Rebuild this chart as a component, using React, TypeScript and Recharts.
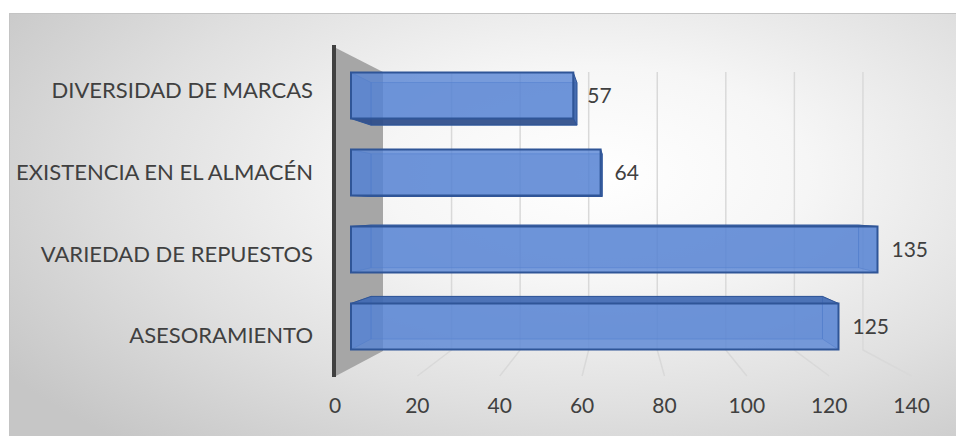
import React from "react";
import { BarChart, Bar, XAxis, YAxis, CartesianGrid, LabelList } from "recharts";

const categories = [
  "DIVERSIDAD DE MARCAS",
  "EXISTENCIA EN EL ALMACÉN",
  "VARIEDAD DE REPUESTOS",
  "ASESORAMIENTO",
];
const values = [57, 64, 135, 125];
const xTicks = [0, 20, 40, 60, 80, 100, 120, 140];

const data = categories.map((name, i) => ({ name, value: values[i] }));

const FONT = "Lato, 'Open Sans', sans-serif";
const TEXT = "#404040";

// fake 3D: vanishing point + depth factor (svg coords)
const VPX = 612;
const VPY = 194;
const DEPTH = 0.074;
const PLOT_LEFT = 341;
const BACK_X0 = 373;
const BACK_K = 0.879;
const TICK_X0 = 325;
const TICK_K = 1.056;
const BACK_TOP = 58;
const BACK_BOTTOM = 337;
const FRONT_TOP = 32;
const FRONT_BOTTOM = 362;

const pts = (arr: number[][]) => arr.map((q) => q.join(",")).join(" ");

const Box3D = (p: any) => {
  const { x, y, width: w, height: h } = p;
  if (w == null || h == null) return null;
  const back = (px: number, py: number) => [px + (VPX - px) * DEPTH, py + (VPY - py) * DEPTH];
  const F = [
    [x, y],
    [x + w, y],
    [x + w, y + h],
    [x, y + h],
  ];
  const B = F.map(([a, b]) => back(a, b));
  const top = [F[0], F[1], B[1], B[0]];
  const bottom = [F[3], F[2], B[2], B[3]];
  const left = [F[0], F[3], B[3], B[0]];
  const right = [F[1], F[2], B[2], B[1]];
  const seeUnder = y + h < VPY;
  const seeRight = x + w < VPX;
  return (
    <g>
      <polygon points={pts(B)} fill="#4472c4" fillOpacity={0.3} stroke="#3a66b4" strokeOpacity={0.55} />
      <polygon points={pts(left)} fill="#3d6bbd" fillOpacity={0.35} stroke="#2f5597" strokeOpacity={0.5} />
      {!seeRight && (
        <polygon points={pts(right)} fill="#4472c4" fillOpacity={0.3} stroke="#2f5597" strokeOpacity={0.5} />
      )}
      <polygon
        points={pts(seeUnder ? bottom : top)}
        fill={seeUnder ? "#2d4d8a" : "#4069b3"}
        fillOpacity={0.9}
        stroke="#2f5597"
      />
      {seeRight && <polygon points={pts(right)} fill="#3a62aa" fillOpacity={0.9} stroke="#2f5597" />}
      <rect x={x} y={y} width={w} height={h} fill="#5785d4" fillOpacity={0.8} stroke="#2f5597" strokeWidth={2} />
    </g>
  );
};

const GridLine = (p: any) => {
  const xf = p.x1;
  const xb = BACK_X0 + (xf - PLOT_LEFT) * BACK_K;
  const xt = TICK_X0 + (xf - PLOT_LEFT) * TICK_K;
  if (Math.abs(xf - PLOT_LEFT) < 1) {
    const fx = xt - 1;
    return (
      <g key={p.key}>
        <polygon
          points={pts([
            [fx, FRONT_TOP + 1],
            [xb, BACK_TOP],
            [xb, BACK_BOTTOM],
            [fx, FRONT_BOTTOM + 1],
          ])}
          fill="#a6a6a6"
        />
        <line x1={fx} y1={FRONT_TOP - 1} x2={fx} y2={FRONT_BOTTOM + 1} stroke="#404040" strokeWidth={4} />
      </g>
    );
  }
  return (
    <polyline
      key={p.key}
      points={pts([
        [xb, BACK_TOP],
        [xb, BACK_BOTTOM - 1],
        [xt, FRONT_BOTTOM],
      ])}
      fill="none"
      stroke="#d9d9d9"
      strokeWidth={1.5}
    />
  );
};

const XTick = (p: any) => {
  const xt = TICK_X0 + (p.x - PLOT_LEFT) * TICK_K;
  return (
    <text x={xt} y={p.y + 28} dy="0.71em" textAnchor="middle" fill={TEXT} fontSize={21} fontFamily={FONT}>
      {p.payload.value}
    </text>
  );
};

const YTick = (p: any) => {
  const ty = 1.06 * p.y - 9.4;
  return (
    <text x={p.x} y={ty} dy="0.355em" textAnchor="end" fill={TEXT} fontSize={22} fontFamily={FONT}>
      {p.payload.value}
    </text>
  );
};

export default function App() {
  return (
    <div
      style={{
        position: "absolute",
        left: 9,
        top: 13,
        width: 947,
        height: 423,
        boxSizing: "border-box",
        borderTop: "1px solid #c4c4c4",
        borderLeft: "1px solid #c4c4c4",
        background:
          "radial-gradient(ellipse 75% 85% at 62% 38%, #ffffff 0%, #f6f6f6 30%, #e0e0e0 65%, #c6c6c6 100%)",
        overflow: "hidden",
      }}
    >
      <BarChart
        width={946}
        height={422}
        data={data}
        layout="vertical"
        margin={{ top: 42.5, right: 59, bottom: 0, left: 0 }}
      >
        <CartesianGrid horizontal={false} vertical={GridLine} />
        <XAxis
          type="number"
          domain={[0, 140]}
          ticks={xTicks}
          height={71.5}
          axisLine={false}
          tickLine={false}
          tickMargin={0}
          tick={XTick}
          interval={0}
        />
        <YAxis
          type="category"
          dataKey="name"
          width={341}
          axisLine={false}
          tickLine={false}
          tickMargin={32}
          tick={YTick}
          interval={0}
        />
        <Bar dataKey="value" barSize={46} shape={Box3D} isAnimationActive={false}>
          <LabelList dataKey="value" position="right" offset={14} fill={TEXT} fontSize={21} fontFamily={FONT} />
        </Bar>
      </BarChart>
    </div>
  );
}
